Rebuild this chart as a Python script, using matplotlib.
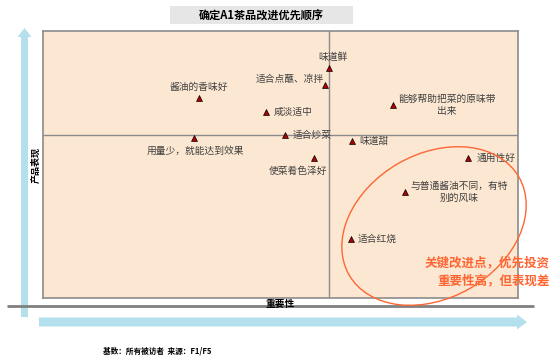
"""Priority matrix: importance vs. product performance for A1 tea-soy attributes."""
import matplotlib
matplotlib.use('Agg')
import matplotlib.pyplot as plt
from matplotlib.patches import Ellipse, Rectangle, FancyArrow

plt.rcParams['font.family'] = ['Noto Sans CJK SC', 'DejaVu Sans']

# attribute names, importance (x) and performance (y)
attributes = ['味道鲜', '适合点蘸、凉拌', '酱油的香味好', '咸淡适中',
              '能够帮助把菜的原味带\n出来', '用量少，就能达到效果', '适合炒菜',
              '味道甜', '使菜肴色泽好', '通用性好', '与普通酱油不同，有特\n别的风味',
              '适合红烧']
importance = [6.02, 5.94, 3.28, 4.69, 7.37, 3.18, 5.09, 6.51, 5.71, 8.95, 7.62, 6.48]
performance = [8.61, 7.98, 7.49, 6.97, 7.23, 5.99, 6.10, 5.88, 5.24, 5.24, 3.97, 2.21]

# label placement (offset in points, horizontal alignment)
label_pos = [((3, 8), 'center'), ((-1, 4), 'right'), ((0, 8), 'center'),
             ((6, 0), 'left'), ((39, 0), 'center'), ((1, -9), 'center'),
             ((6, 0), 'left'), ((5, 0), 'left'), ((-12, -9), 'center'),
             ((6, 0), 'left'), ((39, 0), 'center'), ((5, 0), 'left')]

x_mid, y_mid = 6.02, 6.1

W, H = 552, 356
fig = plt.figure(figsize=(W / 100, H / 100), dpi=100)

# background layer in pixel coordinates: title box, axis line, arrows
bg = fig.add_axes([0, 0, 1, 1], zorder=0)
bg.set_xlim(0, W)
bg.set_ylim(H, 0)
bg.axis('off')
bg.add_patch(Rectangle((170, 6), 183, 18, color='#E6E6E6', lw=0))
bg.text(261, 15.5, '确定A1茶品改进优先顺序', ha='center', va='center',
        fontsize=8, fontweight='bold')
bg.plot([7, 534], [306, 306], color='#808080', lw=2, solid_capstyle='butt')
blue = '#B3E0EC'
bg.add_patch(FancyArrow(24.5, 317, 0, -280, width=7, head_width=14,
                        head_length=9, length_includes_head=False,
                        color=blue, lw=0))
bg.add_patch(FancyArrow(39, 322, 478, 0, width=9, head_width=15,
                        head_length=10, color=blue, lw=0))
bg.text(35.5, 165, '产品表现', rotation=90, ha='center', va='center',
        fontsize=6.5, fontweight='bold')
bg.text(280, 304.5, '重要性', ha='center', va='center', fontsize=7,
        fontweight='bold')
bg.text(157, 351, '基数：所有被访者  来源：F1/F5', ha='center', va='center',
        fontsize=5.5, fontweight='bold')

# main matrix
ax = fig.add_axes([43 / W, 1 - 298 / H, 475 / W, 267 / H], zorder=1)
ax.set_facecolor('#FCE8D2')
ax.set_xlim(0, 10)
ax.set_ylim(0, 10)
ax.set_xticks([])
ax.set_yticks([])
for s in ax.spines.values():
    s.set_color('#8C8C8C')
    s.set_linewidth(1.2)
ax.axvline(x_mid, color='#8C8C8C', lw=1)
ax.axhline(y_mid, color='#8C8C8C', lw=1)

ax.scatter(importance, performance, marker='^', s=18, color='#B00000',
           edgecolors='black', linewidths=0.5, zorder=3)
for name, x, y, (off, ha) in zip(attributes, importance, performance, label_pos):
    ax.annotate(name, (x, y), xytext=off, textcoords='offset points',
                ha=ha, va='center', fontsize=7, color='#404040',
                multialignment='center', linespacing=1.3, zorder=4)

# highlight of the key improvement area
top = fig.add_axes([0, 0, 1, 1], zorder=2)
top.set_xlim(0, W)
top.set_ylim(H, 0)
top.axis('off')
top.patch.set_alpha(0)
top.add_patch(Ellipse((434, 226), 196, 144, angle=-30, fill=False,
                      edgecolor='#FF6633', lw=1))
top.text(550, 263, '关键改进点，优先投资', ha='right', va='center',
         fontsize=9, fontweight='bold', color='#FF6633')
top.text(550, 281, '重要性高，但表现差', ha='right', va='center',
         fontsize=9, fontweight='bold', color='#FF6633')

fig.savefig('out.png', dpi=100)
